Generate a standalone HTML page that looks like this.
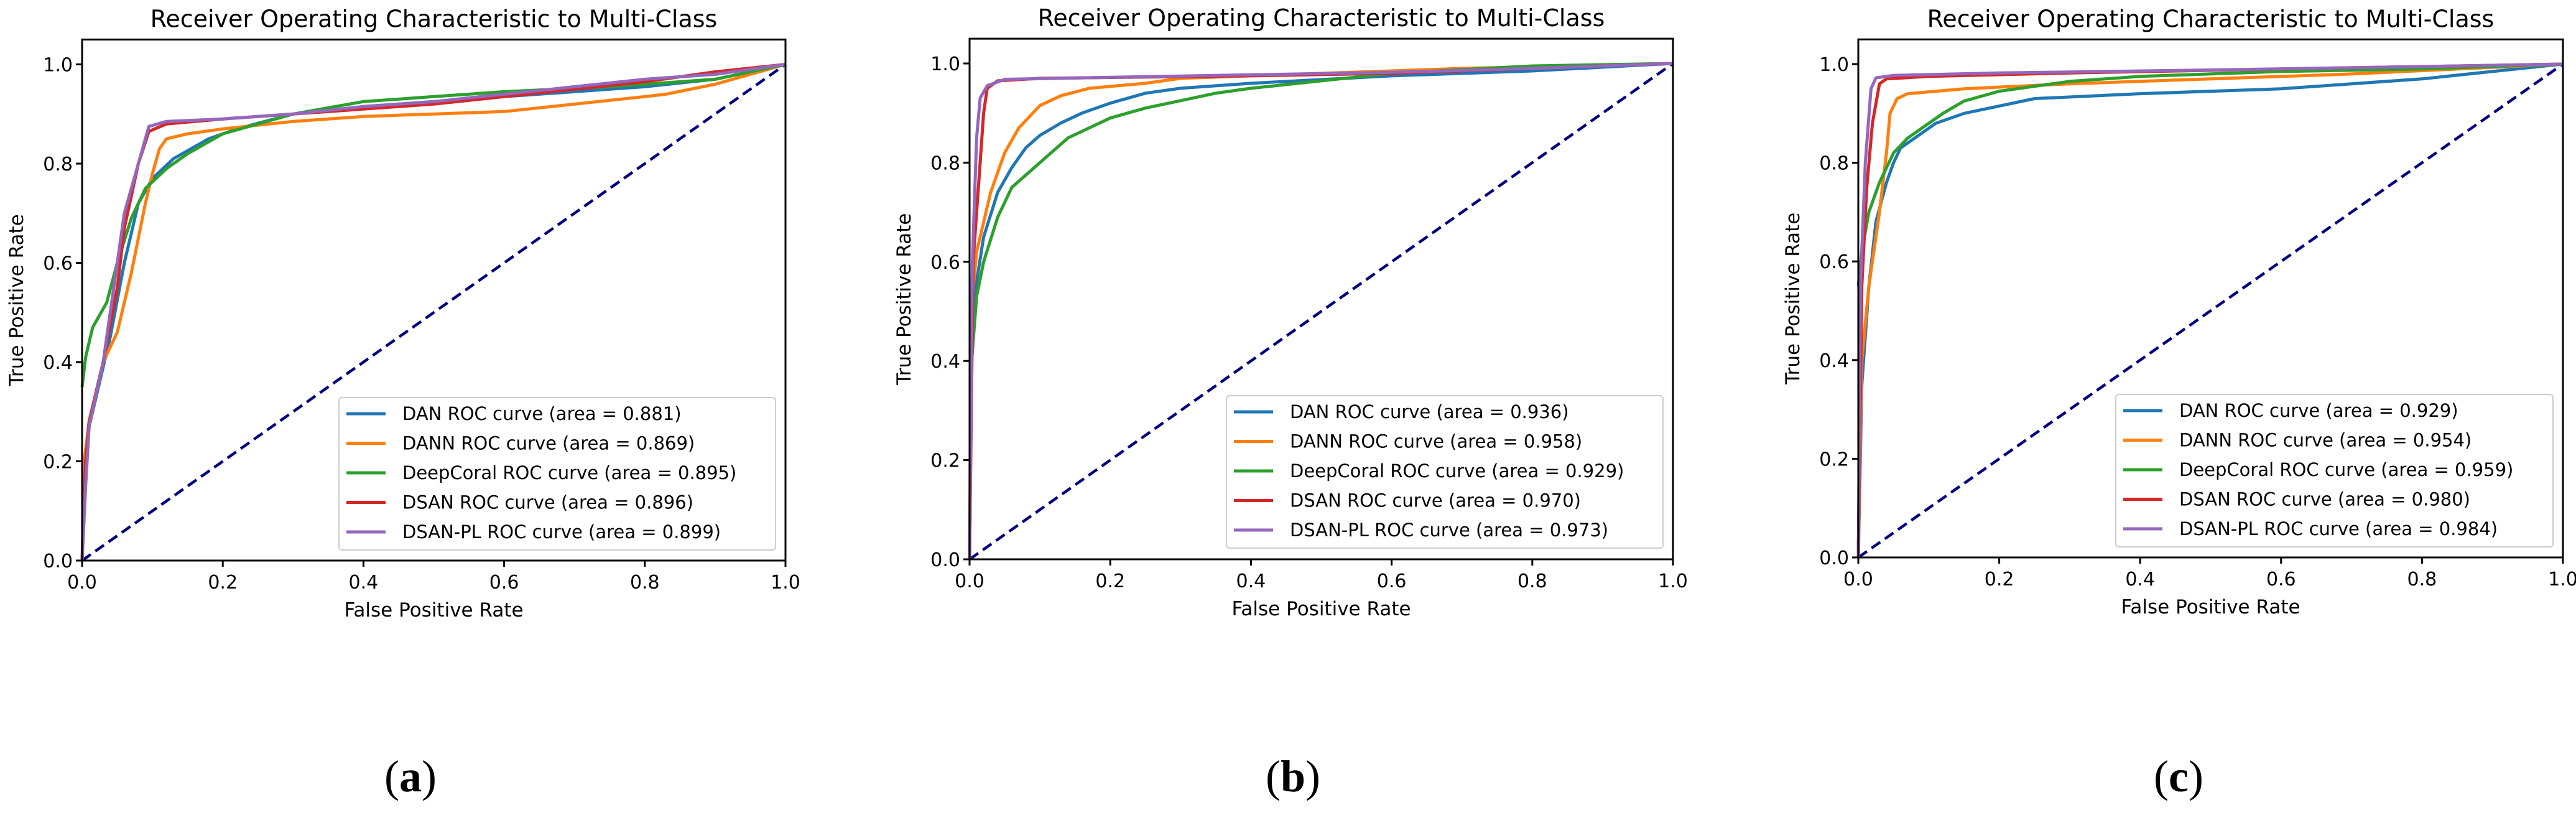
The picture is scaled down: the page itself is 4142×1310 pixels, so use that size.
<!DOCTYPE html>
<html><head><meta charset="utf-8">
<style>
html,body{margin:0;padding:0;background:#fff;}
svg{display:block;font-family:"DejaVu Sans","Liberation Sans",sans-serif;}
</style></head>
<body>
<svg id="fig" width="4142" height="1310" viewBox="0 0 4142 1310" xmlns="http://www.w3.org/2000/svg"></svg>
<script>
const xTicks=[0,0.2,0.4,0.6,0.8,1.0];
const yTicks=[0,0.2,0.4,0.6,0.8,1.0];
const seriesNames=["DAN","DANN","DeepCoral","DSAN","DSAN-PL"];
const colors=["#1f77b4","#ff7f0e","#2ca02c","#d62728","#9467bd"];
const areasA=["0.881","0.869","0.895","0.896","0.899"];
const areasB=["0.936","0.958","0.929","0.970","0.973"];
const areasC=["0.929","0.954","0.959","0.980","0.984"];
const a_DAN=[[0,0],[0.005,0.2],[0.01,0.27],[0.02,0.33],[0.04,0.45],[0.06,0.6],[0.08,0.72],[0.1,0.77],[0.13,0.81],[0.18,0.85],[0.22,0.87],[0.3,0.9],[0.4,0.915],[0.5,0.925],[0.6,0.935],[0.7,0.945],[0.8,0.955],[0.9,0.97],[1,1]];
const a_DANN=[[0,0],[0.003,0.2],[0.01,0.28],[0.03,0.4],[0.05,0.46],[0.07,0.58],[0.09,0.72],[0.1,0.78],[0.11,0.83],[0.12,0.85],[0.15,0.86],[0.2,0.87],[0.3,0.885],[0.4,0.895],[0.6,0.905],[0.7,0.92],[0.8,0.935],[0.83,0.94],[0.9,0.96],[1,1]];
const a_Coral=[[0,0.35],[0.005,0.41],[0.015,0.47],[0.035,0.52],[0.05,0.6],[0.07,0.69],[0.09,0.75],[0.12,0.79],[0.15,0.82],[0.2,0.86],[0.3,0.9],[0.4,0.925],[0.5,0.935],[0.6,0.945],[0.75,0.955],[0.9,0.97],[1,1]];
const a_DSAN=[[0,0],[0.005,0.2],[0.01,0.28],[0.03,0.4],[0.05,0.55],[0.06,0.67],[0.08,0.8],[0.095,0.865],[0.12,0.88],[0.2,0.89],[0.3,0.9],[0.4,0.91],[0.5,0.92],[0.6,0.935],[0.7,0.95],[0.8,0.965],[0.9,0.985],[1,1]];
const a_PL=[[0,0],[0.005,0.15],[0.01,0.27],[0.03,0.4],[0.05,0.6],[0.06,0.7],[0.08,0.8],[0.095,0.875],[0.12,0.885],[0.2,0.89],[0.3,0.9],[0.4,0.915],[0.5,0.925],[0.6,0.94],[0.7,0.955],[0.8,0.97],[0.9,0.98],[1,1]];
const b_DAN=[[0,0],[0.003,0.45],[0.01,0.56],[0.02,0.65],[0.04,0.74],[0.06,0.79],[0.08,0.83],[0.1,0.855],[0.13,0.88],[0.16,0.9],[0.2,0.92],[0.25,0.94],[0.3,0.95],[0.4,0.96],[0.6,0.975],[0.8,0.985],[1,1]];
const b_DANN=[[0,0],[0.002,0.5],[0.01,0.62],[0.03,0.74],[0.05,0.82],[0.07,0.87],[0.1,0.915],[0.13,0.935],[0.17,0.95],[0.25,0.96],[0.3,0.97],[0.5,0.98],[0.7,0.99],[1,1]];
const b_Coral=[[0,0],[0.003,0.4],[0.01,0.53],[0.02,0.6],[0.04,0.69],[0.06,0.75],[0.1,0.8],[0.14,0.85],[0.2,0.89],[0.25,0.91],[0.3,0.925],[0.35,0.94],[0.4,0.95],[0.5,0.965],[0.6,0.98],[0.8,0.995],[1,1]];
const b_DSAN=[[0,0],[0.005,0.6],[0.015,0.8],[0.02,0.9],[0.025,0.95],[0.04,0.965],[0.1,0.97],[0.4,0.975],[0.6,0.98],[0.8,0.99],[1,1]];
const b_PL=[[0,0],[0.004,0.6],[0.01,0.85],[0.015,0.93],[0.025,0.955],[0.05,0.968],[0.2,0.972],[0.4,0.977],[0.6,0.982],[0.8,0.99],[1,1]];
const c_DAN=[[0,0],[0.005,0.35],[0.015,0.55],[0.025,0.68],[0.04,0.76],[0.05,0.8],[0.06,0.83],[0.08,0.85],[0.11,0.88],[0.15,0.9],[0.2,0.915],[0.25,0.93],[0.4,0.94],[0.6,0.95],[0.7,0.96],[0.8,0.97],[0.9,0.985],[1,1]];
const c_DANN=[[0,0],[0.005,0.4],[0.015,0.55],[0.03,0.7],[0.04,0.82],[0.045,0.9],[0.055,0.93],[0.07,0.94],[0.15,0.95],[0.3,0.96],[0.5,0.97],[0.7,0.98],[0.85,0.99],[1,1]];
const c_Coral=[[0,0.55],[0.005,0.62],[0.015,0.7],[0.03,0.76],[0.05,0.82],[0.07,0.85],[0.1,0.88],[0.12,0.9],[0.15,0.925],[0.2,0.945],[0.3,0.965],[0.4,0.975],[0.6,0.985],[0.8,0.99],[1,1]];
const c_DSAN=[[0,0],[0.005,0.55],[0.012,0.75],[0.02,0.88],[0.03,0.96],[0.04,0.97],[0.1,0.975],[0.3,0.982],[0.6,0.99],[1,1]];
const c_PL=[[0,0],[0.003,0.55],[0.01,0.8],[0.018,0.95],[0.025,0.972],[0.05,0.977],[0.2,0.982],[0.5,0.988],[0.8,0.995],[1,1]];

const NS="http://www.w3.org/2000/svg";
const svg=document.getElementById('fig');
function mk(tag,attrs,parent){const e=document.createElementNS(NS,tag);for(const k in attrs)e.setAttribute(k,attrs[k]);(parent||svg).appendChild(e);return e;}

function panel(p){
  const g=mk('g',{});
  
  
  const X=v=>p.left+v*(p.right-p.left);
  const Y=v=>p.y0-v*(p.y0-p.y1);
  const top=Y(1.05);
  const t=mk('text',{x:(p.left+p.right)/2,y:top-20,'font-size':38,'text-anchor':'middle',fill:'#000'},g);
  t.textContent='Receiver Operating Characteristic to Multi-Class';
  
  
  const d=mk('line',{x1:X(0),y1:Y(0),x2:X(1),y2:Y(1),stroke:'navy','stroke-width':4.5,'stroke-dasharray':'17,9'},g);
  
  
  p.series.forEach((s,i)=>{
    const pts=s.map(q=>X(q[0]).toFixed(1)+','+Y(q[1]).toFixed(1)).join(' ');
    const l=mk('polyline',{points:pts,fill:'none',stroke:colors[i],'stroke-width':5,'stroke-linejoin':'round'},g);
    
    
  });
  const f=mk('rect',{x:p.left,y:top,width:p.right-p.left,height:p.y0-top,fill:'none',stroke:'#000','stroke-width':3},g);
  
  
  xTicks.forEach(v=>{
    mk('line',{x1:X(v),y1:p.y0,x2:X(v),y2:p.y0+10,stroke:'#000','stroke-width':3},g);
    const tx=mk('text',{x:X(v),y:p.y0+45,'font-size':30,'text-anchor':'middle',fill:'#000'},g);
    tx.textContent=v.toFixed(1);
    
    
  });
  yTicks.forEach(v=>{
    mk('line',{x1:p.left,y1:Y(v),x2:p.left-10,y2:Y(v),stroke:'#000','stroke-width':3},g);
    const ty=mk('text',{x:p.left-15,y:Y(v)+11,'font-size':30,'text-anchor':'end',fill:'#000'},g);
    ty.textContent=v.toFixed(1);
    
    
  });
  const xl=mk('text',{x:(p.left+p.right)/2,y:p.y0+90,'font-size':31,'text-anchor':'middle',fill:'#000'},g);
  xl.textContent='False Positive Rate';
  
  
  const ycx=p.left-95, ycy=(p.y0+top)/2;
  const yl=mk('text',{x:ycx,y:ycy,'font-size':31,'text-anchor':'middle',fill:'#000',transform:'rotate(-90 '+ycx+' '+ycy+')'},g);
  yl.textContent='True Positive Rate';
  
  
  const lg=mk('g',{},g);
  
  
  mk('rect',{x:p.lgx,y:p.lgy,width:p.lgw,height:245,rx:5,fill:'#fff','fill-opacity':0.8,stroke:'#ccc','stroke-width':2},lg);
  seriesNames.forEach((n,i)=>{
    const yy=p.lgy+26+i*47.5;
    mk('line',{x1:p.lgx+12,y1:yy,x2:p.lgx+75,y2:yy,stroke:colors[i],'stroke-width':5},lg);
    const tt=mk('text',{x:p.lgx+102,y:yy+10,'font-size':29,fill:'#000'},lg);
    tt.textContent=n+' ROC curve (area = '+p.areas[i]+')';
    
    
  });
  const cap=mk('text',{x:p.capx,y:1272,'font-size':72,'text-anchor':'middle',fill:'#000','font-family':'"Liberation Serif",serif'},g);
  cap.innerHTML='(<tspan font-weight="bold">'+p.id+'</tspan>)';
  
  
}

panel({id:'a',left:132,right:1263,y0:901,y1:103.5,lgx:545,lgy:639,lgw:702,areas:areasA,capx:660,series:[a_DAN,a_DANN,a_Coral,a_DSAN,a_PL]});
panel({id:'b',left:1559,right:2690,y0:899,y1:102,lgx:1972,lgy:636,lgw:702,areas:areasB,capx:2079,series:[b_DAN,b_DANN,b_Coral,b_DSAN,b_PL]});
panel({id:'c',left:2988,right:4121,y0:896,y1:103,lgx:3402,lgy:634,lgw:703,areas:areasC,capx:3503,series:[c_DAN,c_DANN,c_Coral,c_DSAN,c_PL]});
</script>
</body></html>
